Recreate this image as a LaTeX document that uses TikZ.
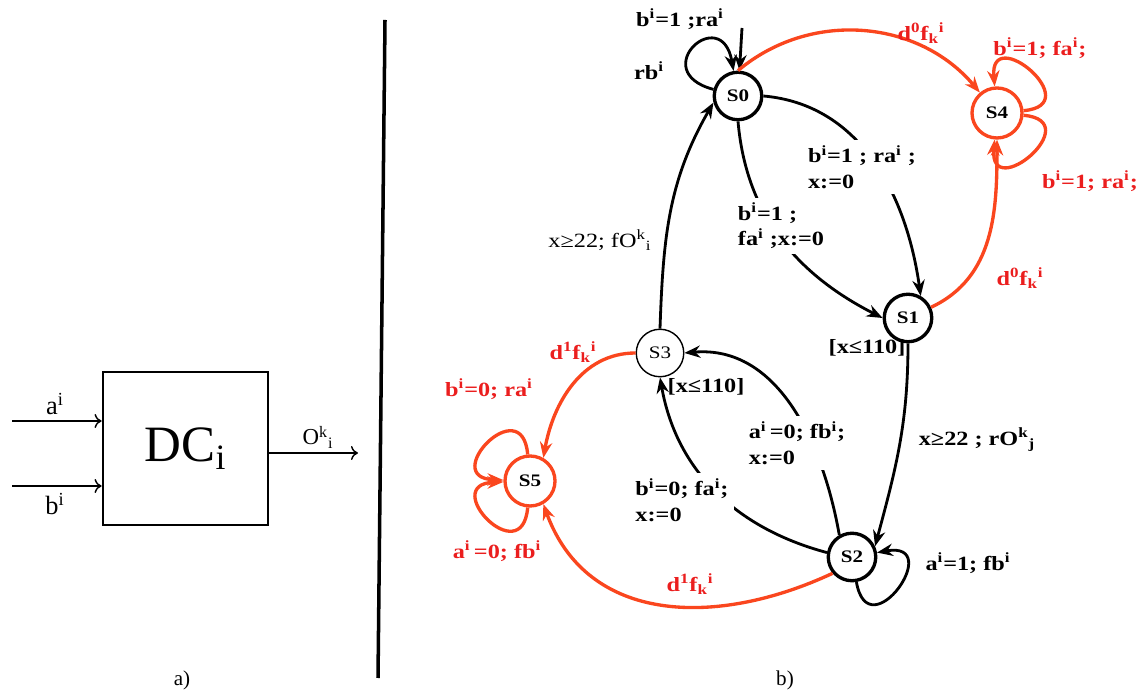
\documentclass[tikz,border=0pt]{standalone}
\usepackage{fontspec}
\setmainfont{Liberation Serif}
\newfontfamily\lblfont{Liberation Serif}[FakeStretch=1.2]
\usetikzlibrary{arrows.meta}
\definecolor{edgered}{RGB}{250,70,30}
\definecolor{textred}{RGB}{235,30,30}
\newcommand{\sps}[1]{\textsuperscript{#1}}
\newcommand{\sbs}[1]{\textsubscript{#1}}
\tikzset{
  st/.style={circle,draw,line width=1.9pt,minimum size=0.95cm,inner sep=0pt,
    font=\lblfont\fontsize{10}{12}\selectfont\bfseries},
  redst/.style={st,draw=edgered,minimum size=1cm},
  tr/.style={line width=1.6pt,-{Stealth[length=9pt,width=7pt]}},
  redtr/.style={tr,color=edgered,line width=1.9pt},
  lp/.style={min distance=#1},
  lbl/.style={font=\lblfont\fontsize{11.5}{14.5}\selectfont\bfseries,align=left,inner sep=1pt},
  redlbl/.style={lbl,text=textred},
  onlbl/.style={lbl,fill=white,inner sep=3pt},
  io/.style={line width=0.8pt,-{To[length=4pt,width=8pt]}}
}
\begin{document}
\begin{tikzpicture}
\useasboundingbox (0,0) rectangle (22.78,13.8);
% a) the DC block
\node[draw,line width=1.6pt,minimum width=3.3cm,minimum height=3.06cm,
  font=\fontsize{29}{32}\selectfont] (dc) at (3.71,4.83) {DC\sbs{i}};
\coordinate (ain) at (0.24,5.38);
\coordinate (bin) at (0.24,4.08);
\coordinate (oout) at (7.16,4.74);
\draw[io] (ain) -- (ain -| dc.west);
\draw[io] (bin) -- (bin -| dc.west);
\draw[io] (oout -| dc.east) -- (oout);
\node[font=\fontsize{15}{17}\selectfont] (alab) at (1.1,5.72) {a\sps{i}};
\node[font=\fontsize{15}{17}\selectfont] (blab) at (1.1,3.72) {b\sps{i}};
\node[font=\fontsize{13}{15}\selectfont] (olab) at (6.36,5.06) {O\sps{k}\sbs{i}};
\draw[line width=2pt] (7.7,13.4) -- (7.56,0.24);
\node[font=\fontsize{12}{14}\selectfont] (pa) at (3.64,0.2) {a)};
\node[font=\fontsize{12}{14}\selectfont] (pb) at (15.7,0.2) {b)};
% b) the automaton
\node[st] (s0) at (14.76,11.88) {S0};
\node[redst] (s4) at (19.94,11.54) {S4};
\node[st] (s1) at (18.16,7.44) {S1};
\node[st,line width=0.8pt,font=\lblfont\fontsize{10}{12}\selectfont] (s3) at (13.20,6.74) {S3};
\node[redst] (s5) at (10.60,4.18) {S5};
\node[st] (s2) at (17.04,2.66) {S2};
\coordinate (init) at (14.84,13.24);
\draw[tr] (init) -- (s0);
\draw[tr] (s0) to[out=165,in=100,lp=14mm] (s0);
\draw[redtr] (s0.north) to[out=40,in=130] (s4);
\draw[redtr] (s4) to[out=5,in=95,lp=13mm] (s4);
\draw[redtr] (s4) to[out=-5,in=-95,lp=13mm] (s4);
\draw[redtr] (s1) to[out=25,in=-90] (s4);
\draw[tr] (s0.east) to[out=-5,in=98] (s1.60);
\draw[tr] (s0.south) to[out=-85,in=153] (s1.west);
\draw[tr] (s1.south) to[out=-90,in=75] (s2.25);
\draw[tr] (s2) to[out=-80,in=10,lp=14mm] (s2);
\draw[tr] (s2.120) to[out=100,in=5] (s3.east);
\draw[tr] (s2.170) to[out=165,in=-80] (s3.south);
\draw[tr] (s3.north) to[out=88,in=-120] (s0.195);
\draw[redtr] (s3.west) to[out=180,in=80] (s5.60);
\draw[redtr] (s2.220) to[out=205,in=-70,looseness=1.1] (s5.-60);
\draw[redtr] (s5) to[out=95,in=178,lp=13mm] (s5);
\draw[redtr] (s5) to[out=-95,in=182,lp=13mm] (s5);
% labels
\node[lbl] (l00) at (13.6,13.42) {b\sps{i}=1 ;ra\sps{i}};
\node[lbl] (l00b) at (12.98,12.38) {rb\sps{i}};
\node[redlbl] (l04) at (18.42,13.14) {d\sps{0}f\sbs{k}\sps{i}};
\node[redlbl] (l44a) at (20.8,12.84) {b\sps{i}=1; fa\sps{i};};
\node[redlbl] (l44b) at (21.8,10.18) {b\sps{i}=1; ra\sps{i};};
\node[onlbl] (l01a) at (17.24,10.46) {b\sps{i}=1 ; ra\sps{i} ;\\x:=0};
\node[onlbl] (l01b) at (15.62,9.28) {b\sps{i}=1 ;\\ fa\sps{i} ;x:=0};
\node[lbl,font=\lblfont\fontsize{11.5}{14.5}\selectfont] (l30) at (12.0,9.0) {x≥22; fO\sps{k}\sbs{i}};
\node[redlbl] (l14) at (20.4,8.24) {d\sps{0}f\sbs{k}\sps{i}};
\node[lbl] (inv1) at (17.34,6.84) {[x≤110]};
\node[redlbl] (l35) at (11.46,6.76) {d\sps{1}f\sbs{k}\sps{i}};
\node[lbl] (inv3) at (14.12,6.06) {[x≤110]};
\node[redlbl] (l55a) at (9.78,6.02) {b\sps{i}=0; ra\sps{i}};
\node[onlbl] (l23a) at (15.94,4.94) {a\sps{i}\,=0; fb\sps{i};\\x:=0};
\node[lbl] (l12) at (19.54,5.0) {x≥22 ; rO\sps{k}\sbs{j}};
\node[onlbl] (l23b) at (13.64,3.8) {b\sps{i}=0; fa\sps{i};\\x:=0};
\node[redlbl] (l55b) at (9.94,2.78) {a\sps{i}\,=0; fb\sps{i}};
\node[lbl] (l22) at (19.36,2.54) {a\sps{i}=1; fb\sps{i}};
\node[redlbl] (l25) at (13.8,2.12) {d\sps{1}f\sbs{k}\sps{i}};
\end{tikzpicture}
\end{document}
